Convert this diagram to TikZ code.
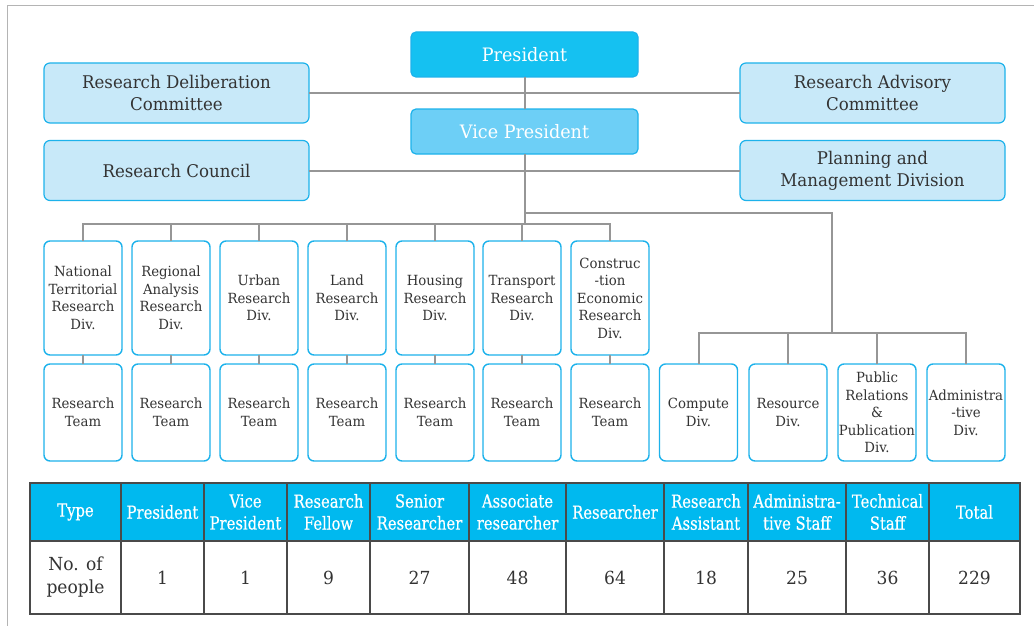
\documentclass[tikz,border=0pt]{standalone}
\usepackage{fontspec}
\setmainfont{DejaVu Serif}[FakeStretch=0.95]
\newfontfamily\headfont{DejaVu Serif}[FakeStretch=0.82, FakeBold=0.5]
\usetikzlibrary{positioning}

\definecolor{presblue}{HTML}{15C1F1}
\definecolor{viceblue}{HTML}{6DCFF6}
\definecolor{paleblue}{HTML}{C8E9F9}
\definecolor{boxline}{HTML}{1DB2EB}
\definecolor{linegray}{HTML}{969696}
\definecolor{framegray}{HTML}{B4B4B4}
\definecolor{headcyan}{HTML}{00B9EF}
\definecolor{gridgray}{HTML}{4A4A4A}
\definecolor{txtgray}{HTML}{333333}

\begin{document}
\begin{tikzpicture}[
    x=1pt, y=-1pt,
    every node/.style = {
      align=center,
      inner sep=0pt,
      outer sep=0pt,
      text=txtgray
    },
    link/.style = {draw=linegray, line width=2pt},
    headbox/.style = {
      shape=rectangle, rounded corners=5pt, draw=boxline, line width=1.2pt,
      minimum width=227pt, minimum height=45pt, text=white,
      font=\fontsize{18.5}{22}\selectfont
    },
    sidebox/.style = {
      shape=rectangle, rounded corners=6pt, draw=boxline, line width=1.2pt,
      fill=paleblue, minimum width=265pt, minimum height=60pt,
      font=\fontsize{17.5}{22}\selectfont
    },
    divbox/.style = {
      shape=rectangle, rounded corners=6pt, draw=boxline, line width=1.4pt,
      fill=white, minimum width=78pt, minimum height=#1,
      font=\fontsize{14}{17.5}\selectfont
    },
    divbox/.default=114pt,
    hcell/.style = {
      anchor=north west, fill=headcyan, draw=gridgray, line width=1.2pt,
      minimum width=#1, minimum height=58pt, text=white,
      font=\headfont\fontsize{18}{22}\selectfont
    },
    dcell/.style = {
      anchor=north west, draw=gridgray, line width=1.2pt,
      minimum width=#1, minimum height=73pt,
      font=\fontsize{18}{23}\selectfont
    }
  ]
  \useasboundingbox (0,0) rectangle (1034,626);
  \draw[framegray, line width=1.5pt] (7.5,626) -- (7.5,5.5) -- (1034,5.5);

  % top of the chart
  \node[headbox, fill=presblue] (pres) at (524.5,54.5) {President};
  \node[headbox, fill=viceblue] (vice) at (524.5,131.5) {Vice President};
  \node[sidebox] (delib) at (176.5,93) {Research Deliberation\\Committee};
  \node[sidebox] (council) at (176.5,170.5) {Research Council};
  \node[sidebox] (advis) at (872.5,93) {Research Advisory\\Committee};
  \node[sidebox] (plan) at (872.5,170.5) {Planning and\\Management Division};

  \draw[link] (pres) -- (vice);
  \draw[link] (delib) -- (advis);
  \draw[link] (council) -- (plan);

  % research divisions and their teams
  \node[divbox] (nat) at (83,298) {National\\Territorial\\Research\\Div.};
  \node[divbox] (reg) at (171,298) {Regional\\Analysis\\Research\\Div.};
  \node[divbox] (urb) at (259,298) {Urban\\Research\\Div.};
  \node[divbox] (land) at (347,298) {Land\\Research\\Div.};
  \node[divbox] (hous) at (435,298) {Housing\\Research\\Div.};
  \node[divbox] (trans) at (522,298) {Transport\\Research\\Div.};
  \node[divbox] (cons) at (610,298) {Construc\\-tion\\Economic\\Research\\Div.};

  \node[divbox=97pt, below=9pt of nat] (natT) {Research\\Team};
  \node[divbox=97pt, below=9pt of reg] (regT) {Research\\Team};
  \node[divbox=97pt, below=9pt of urb] (urbT) {Research\\Team};
  \node[divbox=97pt, below=9pt of land] (landT) {Research\\Team};
  \node[divbox=97pt, below=9pt of hous] (housT) {Research\\Team};
  \node[divbox=97pt, below=9pt of trans] (transT) {Research\\Team};
  \node[divbox=97pt, below=9pt of cons] (consT) {Research\\Team};

  % support divisions
  \node[divbox=97pt] (comp) at (698.5,412.5) {Compute\\Div.};
  \node[divbox=97pt] (res) at (788,412.5) {Resource\\Div.};
  \node[divbox=97pt] (pub) at (877,412.5) {Public\\Relations\\\&\\Publication\\Div.};
  \node[divbox=97pt] (adm) at (966,412.5) {Administra\\-tive\\Div.};

  \coordinate (lbus) at (524.5,224);
  \coordinate (rjoin) at (524.5,213);
  \coordinate (rbus) at (832,333);

  \draw[link] (vice) -- (lbus);
  \draw[link] (nat.north) |- (lbus) -| (cons.north);
  \draw[link] (reg.north) -- (reg.north |- lbus);
  \draw[link] (urb.north) -- (urb.north |- lbus);
  \draw[link] (land.north) -- (land.north |- lbus);
  \draw[link] (hous.north) -- (hous.north |- lbus);
  \draw[link] (trans.north) -- (trans.north |- lbus);
  \draw[link] (nat) -- (natT);
  \draw[link] (reg) -- (regT);
  \draw[link] (urb) -- (urbT);
  \draw[link] (land) -- (landT);
  \draw[link] (hous) -- (housT);
  \draw[link] (trans) -- (transT);
  \draw[link] (cons) -- (consT);

  \draw[link] (rjoin) -| (rbus);
  \draw[link] (comp.north) |- (rbus) -| (adm.north);
  \draw[link] (res.north) -- (res.north |- rbus);
  \draw[link] (pub.north) -- (pub.north |- rbus);

  % staff table
  \node[hcell=91pt] (hType) at (30,483) {Type};
  \node[hcell=83pt] (hPres) at (121,483) {President};
  \node[hcell=83pt] (hVice) at (204,483) {Vice\\President};
  \node[hcell=83pt] (hFell) at (287,483) {Research\\Fellow};
  \node[hcell=99pt] (hSen) at (370,483) {Senior\\Researcher};
  \node[hcell=97pt] (hAsso) at (469,483) {Associate\\researcher};
  \node[hcell=98pt] (hRes) at (566,483) {Researcher};
  \node[hcell=84pt] (hAsst) at (664,483) {Research\\Assistant};
  \node[hcell=98pt] (hAdm) at (748,483) {Administra-\\tive Staff};
  \node[hcell=83pt] (hTech) at (846,483) {Technical\\Staff};
  \node[hcell=91pt] (hTot) at (929,483) {Total};

  \node[dcell=91pt] (nType) at (30,541) {No. of\\people};
  \node[dcell=83pt] (nPres) at (121,541) {1};
  \node[dcell=83pt] (nVice) at (204,541) {1};
  \node[dcell=83pt] (nFell) at (287,541) {9};
  \node[dcell=99pt] (nSen) at (370,541) {27};
  \node[dcell=97pt] (nAsso) at (469,541) {48};
  \node[dcell=98pt] (nRes) at (566,541) {64};
  \node[dcell=84pt] (nAsst) at (664,541) {18};
  \node[dcell=98pt] (nAdm) at (748,541) {25};
  \node[dcell=83pt] (nTech) at (846,541) {36};
  \node[dcell=91pt] (nTot) at (929,541) {229};
\end{tikzpicture}
\end{document}
